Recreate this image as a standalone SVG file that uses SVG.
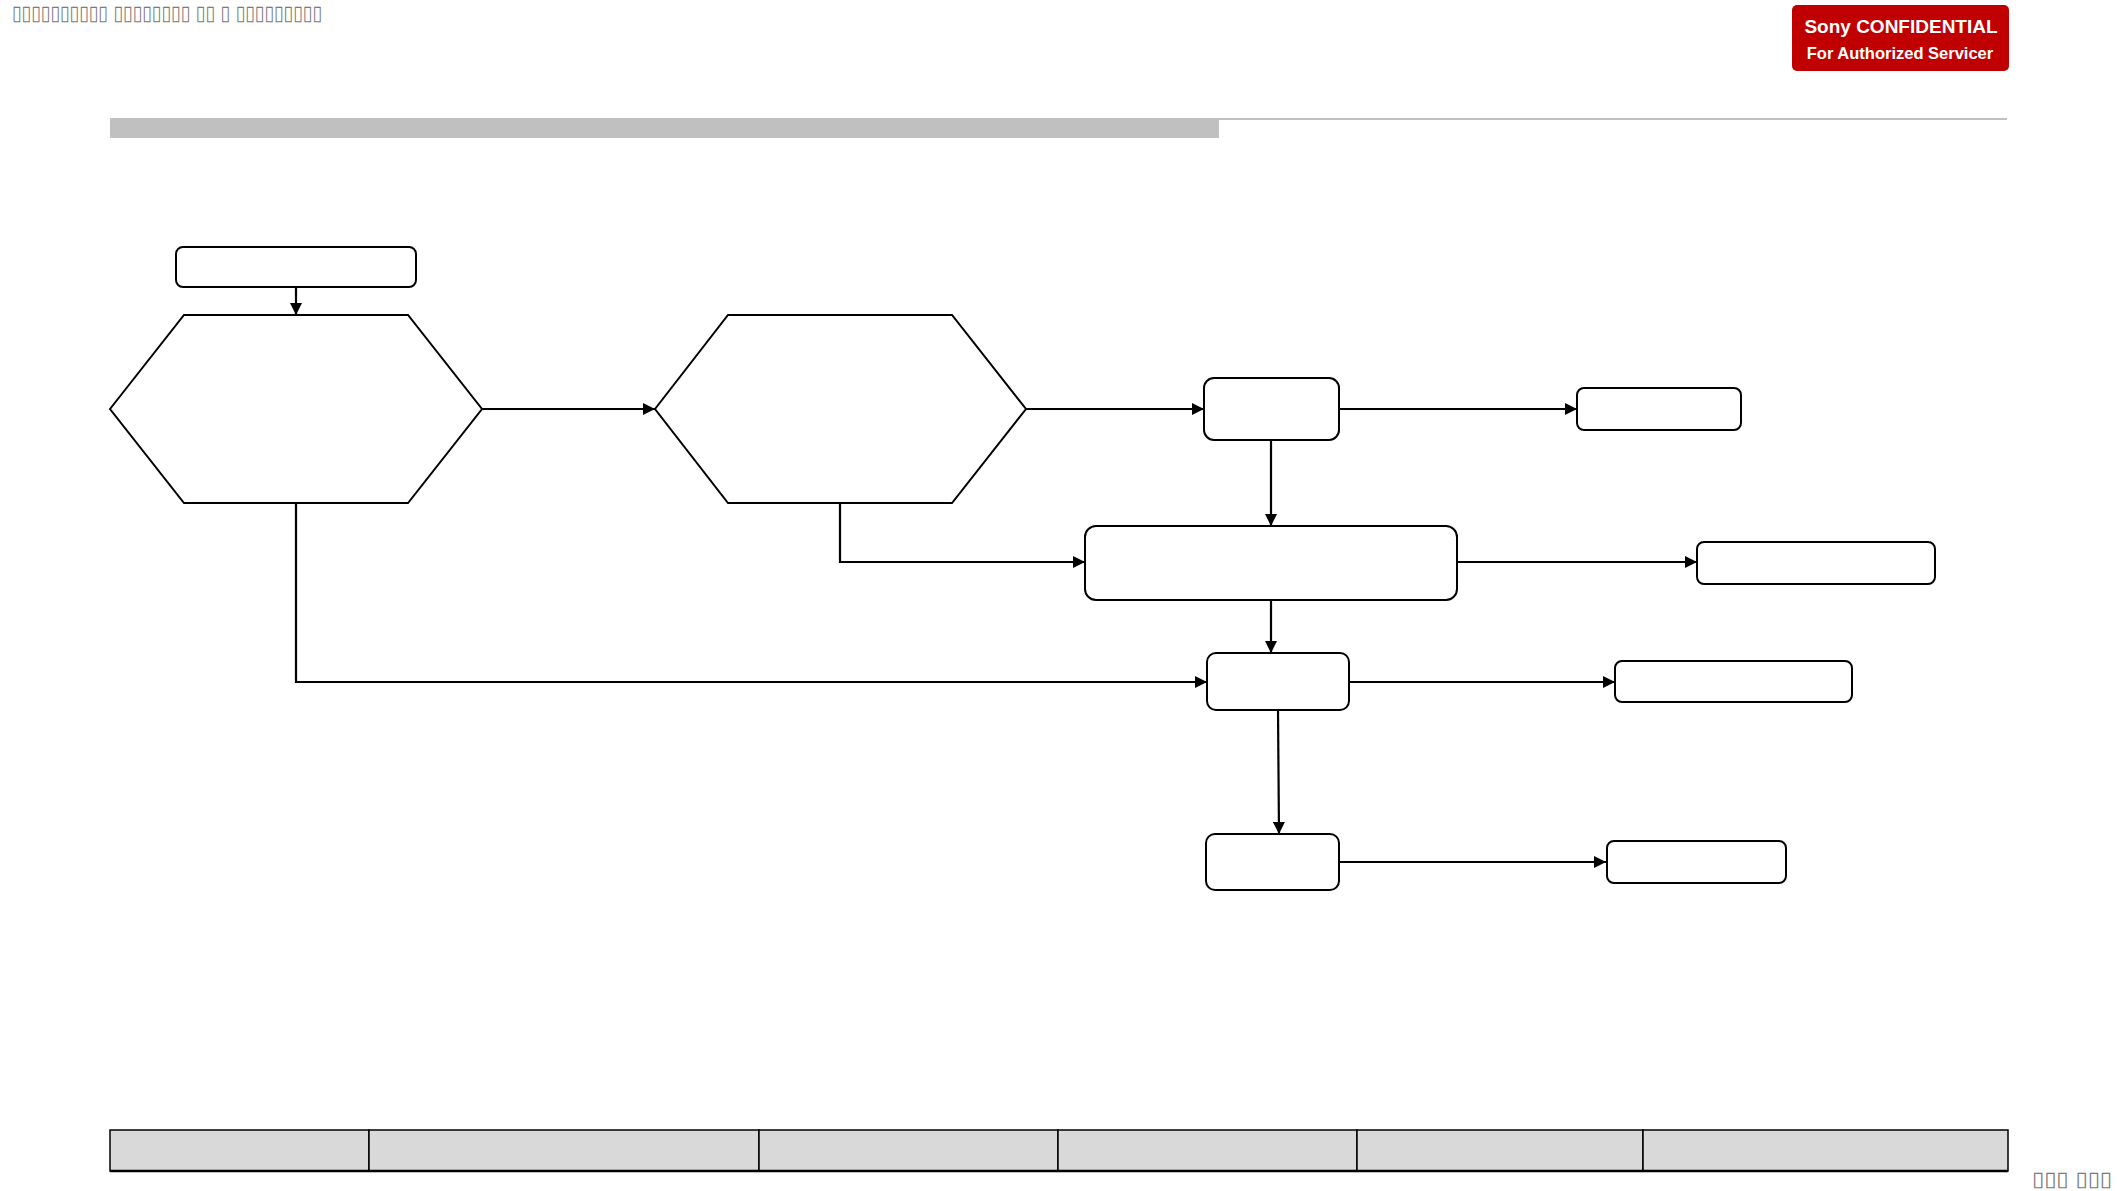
<svg xmlns="http://www.w3.org/2000/svg" width="2117" height="1191" viewBox="0 0 2117 1191">
<style>
.node{fill:#fff;stroke:#000;stroke-width:2}
.conn{fill:none;stroke:#000;stroke-width:2.2}
.tofu{font-family:"DejaVu Sans",sans-serif;font-size:21px;fill:#7a7a7a}
.badge{font-family:"Liberation Sans",Arial,sans-serif;font-weight:bold;fill:#fff}
.cell{fill:#d9d9d9;stroke:#000;stroke-width:1.5}
</style>
<defs>
<marker id="arr" viewBox="0 0 10 10" refX="10" refY="5" markerWidth="12" markerHeight="12" markerUnits="userSpaceOnUse" orient="auto">
<path d="M0,0 L10,5 L0,10 z" fill="#000"/>
</marker>
</defs>
<rect width="2117" height="1191" fill="#fff"/>
<g id="header">
<text class="tofu" x="12" y="20" textLength="310" lengthAdjust="spacingAndGlyphs">▯▯▯▯▯▯▯▯▯▯ ▯▯▯▯▯▯▯▯ ▯▯ ▯ ▯▯▯▯▯▯▯▯▯</text>
<rect x="1792" y="5" width="217" height="66" rx="5" fill="#c00000"/>
<text class="badge" x="1901" y="33" font-size="19" text-anchor="middle">Sony CONFIDENTIAL</text>
<text class="badge" x="1900" y="59" font-size="16.5" text-anchor="middle">For Authorized Servicer</text>
<rect x="110" y="118" width="1109" height="20" fill="#c0c0c0"/>
<rect x="1219" y="118" width="788" height="2" fill="#c0c0c0"/>
</g>
<g id="connectors">
<line class="conn" x1="296" y1="287" x2="296" y2="315" marker-end="url(#arr)"/>
<line class="conn" x1="482" y1="409" x2="655" y2="409" marker-end="url(#arr)"/>
<line class="conn" x1="1026" y1="409" x2="1204" y2="409" marker-end="url(#arr)"/>
<line class="conn" x1="1339" y1="409" x2="1577" y2="409" marker-end="url(#arr)"/>
<line class="conn" x1="1271" y1="440" x2="1271" y2="526" marker-end="url(#arr)"/>
<polyline class="conn" points="840,503 840,562 1085,562" marker-end="url(#arr)"/>
<line class="conn" x1="1457" y1="562" x2="1697" y2="562" marker-end="url(#arr)"/>
<line class="conn" x1="1271" y1="600" x2="1271" y2="653" marker-end="url(#arr)"/>
<polyline class="conn" points="296,503 296,682 1207,682" marker-end="url(#arr)"/>
<line class="conn" x1="1349" y1="682" x2="1615" y2="682" marker-end="url(#arr)"/>
<line class="conn" x1="1278" y1="710" x2="1279" y2="834" marker-end="url(#arr)"/>
<line class="conn" x1="1339" y1="862" x2="1606" y2="862" marker-end="url(#arr)"/>
</g>
<g id="start"><rect class="node" x="176" y="247" width="240" height="40" rx="7"/></g>
<g id="hex1"><polygon class="node" points="110,409 184,315 408,315 482,409 408,503 184,503"/></g>
<g id="hex2"><polygon class="node" points="655,409 728,315 952,315 1026,409 952,503 728,503"/></g>
<g id="boxA"><rect class="node" x="1204" y="378" width="135" height="62" rx="10"/></g>
<g id="boxA-out"><rect class="node" x="1577" y="388" width="164" height="42" rx="7"/></g>
<g id="boxB"><rect class="node" x="1085" y="526" width="372" height="74" rx="11"/></g>
<g id="boxB-out"><rect class="node" x="1697" y="542" width="238" height="42" rx="7"/></g>
<g id="boxC"><rect class="node" x="1207" y="653" width="142" height="57" rx="9"/></g>
<g id="boxC-out"><rect class="node" x="1615" y="661" width="237" height="41" rx="7"/></g>
<g id="boxD"><rect class="node" x="1206" y="834" width="133" height="56" rx="9"/></g>
<g id="boxD-out"><rect class="node" x="1607" y="841" width="179" height="42" rx="7"/></g>
<g id="footer">
<rect class="cell" x="110" y="1130" width="259" height="41"/>
<rect class="cell" x="369" y="1130" width="390" height="41"/>
<rect class="cell" x="759" y="1130" width="299" height="41"/>
<rect class="cell" x="1058" y="1130" width="299" height="41"/>
<rect class="cell" x="1357" y="1130" width="286" height="41"/>
<rect class="cell" x="1643" y="1130" width="365" height="41"/>
<line x1="110" y1="1171" x2="2008" y2="1171" stroke="#000" stroke-width="2.5"/>
<text class="tofu" x="2032" y="1186" textLength="80" lengthAdjust="spacingAndGlyphs">▯▯▯ ▯▯▯</text>
</g>
</svg>
